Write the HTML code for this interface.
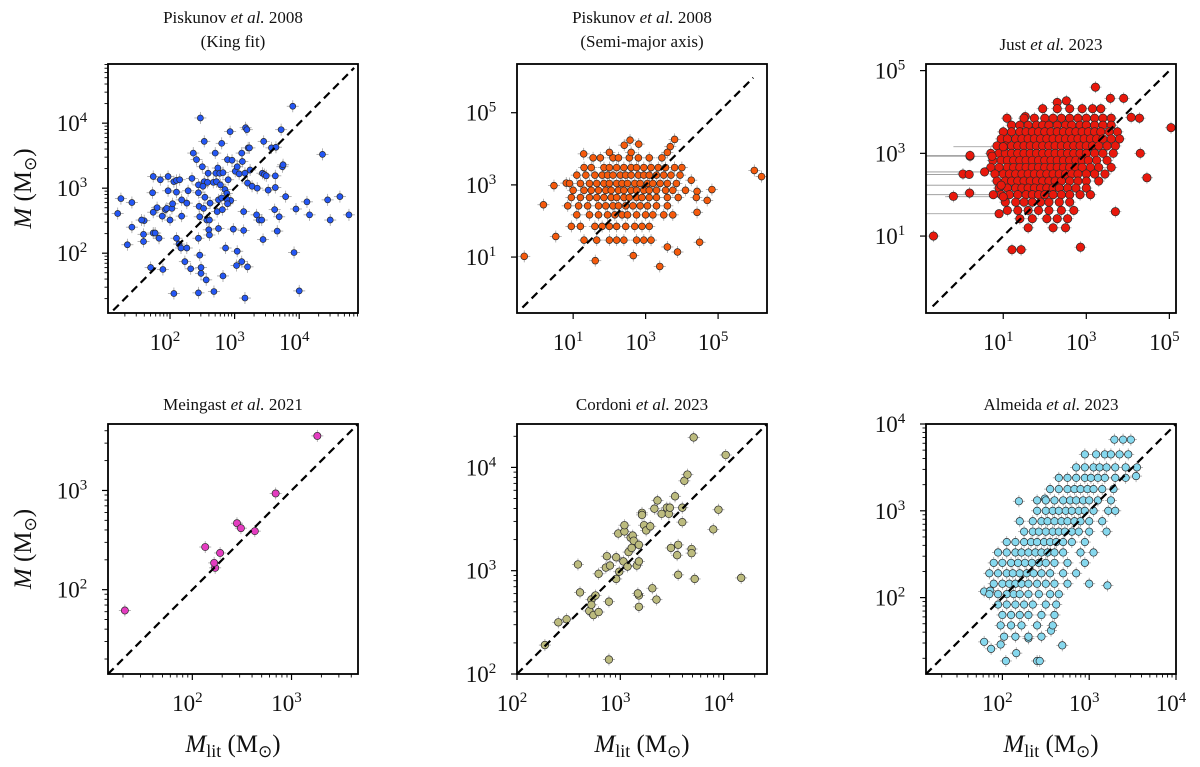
<!DOCTYPE html>
<html><head><meta charset="utf-8"><style>
html,body{margin:0;padding:0;background:#fff;}
svg{display:block;font-family:"Liberation Serif","DejaVu Serif",serif;}
</style></head><body>
<svg id="fig" width="1200" height="767" viewBox="0 0 1200 767" xmlns="http://www.w3.org/2000/svg"></svg>
<script>
// ---- data (log10 masses) ----
const p1Data=[[1.19,2.61],[1.24,2.84],[1.41,2.78],[1.41,2.40],[1.34,2.13],[1.6,2.5],[1.56,2.51],[1.59,2.29],[1.59,2.18],[1.74,3.18],[1.73,2.93],[1.74,2.63],[1.74,2.31],[1.77,2.31],[1.70,1.78],[1.80,2.70],[1.83,2.23],[1.88,2.57],[1.89,1.75],[1.85,3.13],[1.93,2.67],[1.95,2.69],[1.97,2.96],[1.97,3.18],[2.0,2.51],[2.03,2.69],[2.04,2.76],[2.06,3.10],[2.10,3.12],[2.10,2.94],[2.15,3.13],[2.18,2.82],[2.18,2.57],[2.10,2.23],[2.14,2.14],[2.06,1.38],[2.17,2.08],[2.23,1.87],[2.26,2.08],[2.26,2.77],[2.28,2.96],[2.32,1.76],[2.34,3.15],[2.36,3.54],[2.41,3.44],[2.44,3.05],[2.44,2.93],[2.45,2.72],[2.46,2.56],[2.44,2.23],[2.46,1.97],[2.44,1.39],[2.47,4.08],[2.50,3.33],[2.53,3.72],[2.53,3.10],[2.51,3.03],[2.52,2.69],[2.48,1.78],[2.48,1.69],[2.54,2.86],[2.59,3.23],[2.58,3.09],[2.57,2.51],[2.60,2.36],[2.61,2.28],[2.56,1.59],[2.62,2.77],[2.61,2.51],[2.67,3.09],[2.68,1.41],[2.70,3.54],[2.71,3.23],[2.72,3.10],[2.73,2.64],[2.74,3.31],[2.75,2.82],[2.75,2.38],[2.77,3.23],[2.80,3.69],[2.78,3.05],[2.80,2.85],[2.81,2.67],[2.82,1.65],[2.82,3.24],[2.85,2.98],[2.86,2.08],[2.88,2.92],[2.89,3.44],[2.90,3.13],[2.93,3.87],[2.94,2.81],[2.96,3.43],[2.88,2.83],[2.89,2.76],[2.98,2.37],[3.01,3.26],[3.04,3.33],[3.04,2.03],[3.03,1.81],[3.07,3.22],[3.11,3.54],[3.11,1.87],[3.12,3.41],[3.14,2.64],[3.14,2.35],[3.16,3.23],[3.17,3.93],[3.19,3.90],[3.16,1.31],[3.20,1.79],[3.20,3.08],[3.21,3.62],[3.23,3.62],[3.24,3.28],[3.27,3.03],[3.34,2.59],[3.35,3.0],[3.38,2.51],[3.42,2.51],[3.44,2.21],[3.45,3.72],[3.43,3.23],[3.46,3.21],[3.49,3.19],[3.52,2.97],[3.57,3.62],[3.64,3.63],[3.63,3.19],[3.63,3.01],[3.62,2.67],[3.66,2.34],[3.69,2.56],[3.72,3.90],[3.74,3.33],[3.75,3.36],[3.79,2.87],[3.90,4.26],[3.92,2.01],[3.95,2.68],[4.00,1.42],[4.12,2.79],[4.16,2.59],[4.36,3.52],[4.44,2.82],[4.48,2.51],[4.63,2.87],[4.77,2.59]];

const p2Data=[[-0.35,1.02],[0.18,2.45],[0.52,1.57],[0.47,2.98],[0.81,3.05],[1.29,3.86],[6.0,3.40],[6.2,3.23],[4.49,1.41],[3.39,0.74],[1.61,0.9],[2.66,1.04],[3.88,1.14],[3.6,1.28],[4.83,2.87],[4.42,2.82],[4.7,2.57],[4.42,2.24],[4.26,3.13],[2.57,4.24],[2.41,4.10],[2.81,4.13],[3.80,4.26],[3.68,4.06]];
const p2Rows=[[3.75,[1.55,1.75,2.1,2.25,2.55,2.8,3.1,3.45]],[3.9,[2.0,2.6,3.6]],[3.48,[1.3,1.5,1.85,2.0,2.2,2.4,2.6,2.75,2.95,3.15,3.35,3.55,3.8,4.0]],[3.27,[1.1,1.35,1.6,1.8,1.95,2.1,2.3,2.45,2.6,2.8,2.95,3.1,3.3,3.5,3.7,3.95]],[3.04,[0.9,1.2,1.45,1.65,1.85,2.0,2.2,2.35,2.5,2.7,2.85,3.05,3.2,3.4,3.6,3.85]],[2.85,[1.0,1.3,1.5,1.7,1.9,2.05,2.25,2.4,2.6,2.75,2.95,3.1,3.3,3.55,3.75,4.1]],[2.65,[0.95,1.2,1.45,1.65,1.85,2.05,2.2,2.4,2.55,2.75,2.9,3.1,3.3,3.6,3.9,4.4]],[2.42,[0.85,1.15,1.4,1.7,1.9,2.1,2.25,2.45,2.65,2.85,3.05,3.3,3.6]],[2.17,[1.1,1.45,1.7,1.95,2.15,2.35,2.5,2.75,3.0,3.2,3.5,3.75]],[1.85,[0.95,1.2,1.6,1.8,2.0,2.2,2.45,2.7,2.9,3.1]],[1.47,[1.3,1.65,2.0,2.2,2.4,2.75,2.95,3.15]]];

const p3Data=[[-0.68,1.0],[5.04,3.62],[3.7,1.59],[2.86,0.73],[1.21,0.67],[1.43,0.67],[4.46,2.41],[4.3,3.0],[-0.2,1.96],[0.19,2.04],[0.2,2.93],[0.03,2.5],[3.22,4.6],[2.52,4.27],[2.3,4.23],[1.09,3.85],[1.53,3.89],[3.58,4.33],[3.9,4.33],[4.08,3.87],[4.28,3.85]];
const p3LongErr=[[0.73,2.93,-0.86],[0.2,2.95,-0.86],[0.55,2.55,-0.86],[0.76,2.0,-0.86],[0.9,1.54,-0.86],[0.18,2.49,-0.86],[1.0,3.16,-0.2],[0.95,2.23,-0.86],[1.0,1.95,-0.4]];
const p3Rows=[[4.08,[1.95,2.3,2.6,2.9,3.15,3.35]],[3.85,[1.5,1.75,2.0,2.2,2.4,2.6,2.8,3.0,3.2,3.4,3.6]],[3.68,[1.2,1.4,1.6,1.8,1.95,2.1,2.3,2.5,2.65,2.85,3.0,3.2,3.4,3.6]],[3.52,[1.0,1.2,1.4,1.55,1.7,1.85,2.0,2.15,2.3,2.45,2.6,2.75,2.9,3.05,3.2,3.35,3.55,3.75]],[3.35,[0.95,1.1,1.3,1.45,1.6,1.75,1.9,2.05,2.2,2.35,2.5,2.65,2.8,2.95,3.1,3.25,3.4,3.6,3.8]],[3.18,[0.85,1.05,1.2,1.35,1.5,1.65,1.8,1.95,2.1,2.25,2.4,2.55,2.7,2.85,3.0,3.15,3.3,3.5,3.7]],[3.0,[0.7,0.9,1.05,1.2,1.35,1.5,1.65,1.8,1.95,2.1,2.25,2.4,2.55,2.7,2.85,3.0,3.2,3.4,3.65]],[2.83,[0.75,0.95,1.1,1.25,1.4,1.55,1.7,1.85,2.0,2.15,2.3,2.45,2.6,2.75,2.9,3.05,3.25,3.5]],[2.66,[0.7,0.9,1.1,1.25,1.4,1.55,1.7,1.85,2.0,2.15,2.3,2.45,2.6,2.75,2.9,3.1,3.3,3.6]],[2.5,[0.8,1.0,1.15,1.3,1.45,1.6,1.75,1.9,2.05,2.2,2.35,2.5,2.65,2.8,3.0,3.2,3.45]],[2.33,[0.85,1.05,1.2,1.35,1.5,1.65,1.8,1.95,2.1,2.25,2.4,2.6,2.8,3.0,3.3]],[2.16,[0.9,1.1,1.3,1.45,1.6,1.75,1.9,2.05,2.2,2.35,2.55,2.75,3.0]],[2.0,[0.95,1.15,1.35,1.55,1.7,1.85,2.0,2.2,2.4,2.6,2.85,3.1]],[1.82,[1.05,1.3,1.5,1.7,1.9,2.1,2.35,2.6]],[1.62,[1.1,1.35,1.6,1.85,2.1,2.4,2.7]],[1.42,[1.4,1.7,2.05,2.3,2.55]],[1.2,[1.6,2.2,2.5]]];

const p4Data=[[1.32,1.79],[2.13,2.43],[2.23,2.22],[2.22,2.27],[2.28,2.37],[2.45,2.67],[2.49,2.62],[2.63,2.59],[2.84,2.97],[3.26,3.55]];

const p5Data=[[2.27,2.28],[2.40,2.50],[2.48,2.53],[2.59,3.06],[2.61,2.79],[2.70,2.61],[2.72,2.72],[2.72,2.67],[2.74,2.57],[2.76,2.76],[2.79,2.60],[2.79,2.97],[2.86,3.03],[2.87,3.14],[2.89,2.70],[2.89,2.14],[2.90,3.05],[2.96,3.13],[2.96,2.92],[2.98,3.36],[2.99,2.99],[3.03,3.09],[3.04,3.38],[3.04,3.44],[3.07,3.04],[3.08,3.18],[3.10,3.32],[3.11,3.22],[3.12,3.34],[3.13,3.29],[3.16,3.05],[3.18,3.25],[3.18,3.09],[3.18,2.76],[3.17,2.78],[3.18,2.65],[3.21,3.56],[3.21,3.54],[3.23,3.44],[3.25,3.39],[3.29,3.43],[3.31,2.83],[3.33,3.60],[3.35,2.72],[3.36,3.68],[3.40,3.55],[3.45,3.61],[3.47,3.55],[3.48,3.61],[3.49,3.22],[3.53,3.72],[3.55,3.15],[3.56,3.25],[3.56,2.96],[3.60,3.47],[3.60,3.61],[3.62,3.87],[3.65,3.93],[3.69,3.21],[3.69,3.17],[3.72,2.92],[3.71,4.29],[3.90,3.40],[3.95,3.59],[4.02,4.12],[4.17,2.93]];

const p6Data=[[2.19,3.11],[2.49,3.14],[1.79,2.07],[1.86,2.08],[3.21,2.14],[1.79,1.49],[1.87,1.41],[2.04,1.27],[2.69,1.45],[2.16,1.36],[2.40,1.27],[2.43,1.27],[2.30,1.53],[1.98,1.46],[2.56,1.62],[3.54,3.40]];
const p6Rows=[[3.82,[3.29,3.39,3.48]],[3.65,[2.95,3.08,3.18,3.25,3.35,3.45]],[3.5,[2.85,2.95,3.05,3.12,3.2,3.3,3.42,3.55]],[3.38,[2.65,2.75,2.85,2.95,3.02,3.1,3.18,3.3,3.42]],[3.25,[2.55,2.65,2.75,2.83,2.9,2.98,3.05,3.15,3.28]],[3.12,[2.4,2.5,2.6,2.7,2.78,2.85,2.93,3.0,3.1,3.25]],[3.0,[2.4,2.5,2.58,2.65,2.73,2.8,2.88,2.95,3.05,3.22,3.3]],[2.88,[2.2,2.35,2.45,2.52,2.6,2.68,2.75,2.83,2.9,3.0,3.15]],[2.76,[2.25,2.35,2.42,2.5,2.58,2.65,2.72,2.8,2.88,3.0,3.2]],[2.64,[2.05,2.15,2.25,2.33,2.4,2.48,2.55,2.62,2.7,2.8,2.95]],[2.52,[1.95,2.05,2.15,2.22,2.3,2.38,2.45,2.52,2.6,2.7,2.9,3.05]],[2.4,[1.9,2.0,2.1,2.18,2.26,2.34,2.42,2.5,2.6,2.75,2.95]],[2.28,[1.85,1.95,2.05,2.12,2.2,2.28,2.36,2.45,2.55,2.7,2.85]],[2.16,[1.9,2.0,2.08,2.15,2.22,2.3,2.4,2.5,2.6,2.75,3.0]],[2.04,[1.85,1.95,2.05,2.13,2.2,2.3,2.42,2.55,2.65]],[1.92,[1.95,2.05,2.15,2.25,2.35,2.5,2.62]],[1.8,[2.0,2.1,2.2,2.3,2.45,2.6]],[1.68,[1.98,2.1,2.22,2.4,2.58]],[1.55,[2.02,2.15,2.3,2.45]]];

const p1Ticks=[2,3,4], p2Ticks=[1,3,5], p3Ticks=[1,3,5], p4Ticks=[2,3], p5Ticks=[2,3,4], p6Ticks=[2,3,4];

// ---- rendering ----
const NS="http://www.w3.org/2000/svg";
const svg=document.getElementById('fig');
function mk(tag,attrs,parent){const e=document.createElementNS(NS,tag);for(const k in attrs)e.setAttribute(k,attrs[k]);(parent||svg).appendChild(e);return e;}
function rowsToPts(rows){const o=[];rows.forEach(r=>r[1].forEach(x=>o.push([x,r[0]])));return o;}

const panels=[
 {id:'piskunov-king',L:108,T:64,W:250,H:249,xr:[1.04,4.91],yr:[1.08,4.91],d:[1.12,4.85],ticks:p1Ticks,minor:true,pts:p1Data,col:'#2457f5',r:3,t1:['Piskunov ','et al.',' 2008'],t2:'(King fit)',ylab:true,xlab:false},
 {id:'piskunov-sma',L:517,T:64,W:250,H:249,xr:[-0.55,6.35],yr:[-0.55,6.35],d:[-0.4,5.97],ticks:p2Ticks,minor:false,pts:p2Data.concat(rowsToPts(p2Rows)),col:'#f55a0c',r:3.4,t1:['Piskunov ','et al.',' 2008'],t2:'(Semi-major axis)',ylab:false,xlab:false},
 {id:'just',L:926,T:64,W:250,H:249,xr:[-0.86,5.16],yr:[-0.86,5.16],d:[-0.7,5.0],ticks:p3Ticks,minor:false,pts:p3Data.concat(rowsToPts(p3Rows)),long:p3LongErr,col:'#e8180c',r:4.2,t1:['Just ','et al.',' 2023'],t2:null,ylab:false,xlab:false},
 {id:'meingast',L:108,T:424,W:250,H:250,xr:[1.15,3.67],yr:[1.15,3.67],d:[1.15,3.67],ticks:p4Ticks,minor:true,pts:p4Data,col:'#e43cc0',r:3.6,t1:['Meingast ','et al.',' 2021'],t2:null,ylab:true,xlab:true},
 {id:'cordoni',L:517,T:424,W:250,H:250,xr:[2,4.42],yr:[2,4.42],d:[2,4.42],ticks:p5Ticks,minor:true,pts:p5Data,col:'#bcbb7e',r:3.8,t1:['Cordoni ','et al.',' 2023'],t2:null,ylab:false,xlab:true},
 {id:'almeida',L:926,T:424,W:250,H:250,xr:[1.12,4.0],yr:[1.12,4.0],d:[1.12,4.0],ticks:p6Ticks,minor:true,pts:p6Data.concat(rowsToPts(p6Rows)),col:'#86d8ee',r:3.7,t1:['Almeida ','et al.',' 2023'],t2:null,ylab:false,xlab:true}
];

panels.forEach(p=>{
 const g=mk('g',{});
 
 
 const sx=v=>p.L+(v-p.xr[0])/(p.xr[1]-p.xr[0])*p.W;
 const sy=v=>p.T+p.H-(v-p.yr[0])/(p.yr[1]-p.yr[0])*p.H;
 const cx=p.L+p.W/2;
 const ty=p.t2?(p.T-41):(p.T-14);
 const t=mk('text',{x:cx,y:ty,'text-anchor':'middle','font-size':17,fill:'#111'},g);
 
 
 mk('tspan',{},t).textContent=p.t1[0];
 mk('tspan',{'font-style':'italic'},t).textContent=p.t1[1];
 mk('tspan',{},t).textContent=p.t1[2];
 if(p.t2){const t2=mk('text',{x:cx,y:p.T-17,'text-anchor':'middle','font-size':17,fill:'#111'},g);
  
  
  t2.textContent=p.t2;}
 const cp=mk('clipPath',{id:'clip-'+p.id},g);mk('rect',{x:p.L,y:p.T,width:p.W,height:p.H},cp);
 const pg=mk('g',{'clip-path':'url(#clip-'+p.id+')'},g);
 
 
 const eg=mk('g',{stroke:'#8a8a8a','stroke-width':0.8,opacity:0.8},pg);
 
 
 p.pts.forEach(d=>{const x=sx(d[0]),y=sy(d[1]);
  mk('line',{x1:x-6,x2:x+6,y1:y,y2:y},eg);mk('line',{x1:x,x2:x,y1:y-6,y2:y+6},eg);});
 if(p.long)p.long.forEach(d=>{mk('line',{x1:sx(d[2]),x2:sx(d[0]),y1:sy(d[1]),y2:sy(d[1]),stroke:'#777'},eg);});
 const mg=mk('g',{fill:p.col,stroke:'#2a2a2a','stroke-width':0.7},pg);
 
 
 p.pts.forEach(d=>{const c=mk('circle',{cx:sx(d[0]),cy:sy(d[1]),r:p.r},mg);
  
  });
 if(p.long)p.long.forEach(d=>{const c=mk('circle',{cx:sx(d[0]),cy:sy(d[1]),r:p.r},mg);
  
  });
 const dl=mk('line',{x1:sx(p.d[0]),y1:sy(p.d[0]),x2:sx(p.d[1]),y2:sy(p.d[1]),stroke:'#000','stroke-width':2.2,'stroke-dasharray':'8,5'},g);
 
 
 const fr=mk('rect',{x:p.L,y:p.T,width:p.W,height:p.H,fill:'none',stroke:'#000','stroke-width':1.8},g);
 
 
 const tg=mk('g',{stroke:'#000','stroke-width':1.2},g);
 
 
 const B=p.T+p.H;
 if(p.minor){
  for(let dec=Math.floor(p.xr[0]);dec<=Math.ceil(p.xr[1]);dec++)for(let m=2;m<=9;m++){const v=dec+Math.log10(m);
   if(v>p.xr[0]&&v<p.xr[1])mk('line',{x1:sx(v),x2:sx(v),y1:B,y2:B+3.5,'stroke-width':0.9},tg);
   if(v>p.yr[0]&&v<p.yr[1])mk('line',{x1:p.L,x2:p.L-3.5,y1:sy(v),y2:sy(v),'stroke-width':0.9},tg);}
 }
 p.ticks.forEach(v=>{
  if(v>=p.xr[0]-0.01&&v<=p.xr[1]+0.01){const x=sx(v);mk('line',{x1:x,x2:x,y1:B,y2:B+6},tg);
   const lt=mk('text',{x:x-5,y:B+37,'text-anchor':'middle','font-size':23,fill:'#111'},g);
   
   
   lt.textContent='10';const s=mk('tspan',{'font-size':15,dy:-9},lt);s.textContent=String(v);}
  if(v>=p.yr[0]-0.01&&v<=p.yr[1]+0.01){const y=sy(v);mk('line',{x1:p.L,x2:p.L-6,y1:y,y2:y},tg);
   const lt=mk('text',{x:p.L-36,y:y+8,'text-anchor':'middle','font-size':23,fill:'#111'},g);
   
   
   lt.textContent='10';const s=mk('tspan',{'font-size':15,dy:-9},lt);s.textContent=String(v);}
 });
 if(p.ylab){const yc=p.T+p.H/2;
  const yl=mk('text',{x:0,y:0,transform:'translate(31,'+yc+') rotate(-90)','text-anchor':'middle','font-size':25,fill:'#111'},g);
  
  
  mk('tspan',{'font-style':'italic'},yl).textContent='M';
  mk('tspan',{},yl).textContent=' (M';
  mk('tspan',{'font-size':17,dy:5,'font-family':'DejaVu Sans'},yl).textContent='\u2299';
  mk('tspan',{dy:-5},yl).textContent=')';}
 if(p.xlab){
  const xl=mk('text',{x:cx,y:752,'text-anchor':'middle','font-size':25,fill:'#111'},g);
  
  
  mk('tspan',{'font-style':'italic'},xl).textContent='M';
  mk('tspan',{'font-size':18,dy:5},xl).textContent='lit';
  mk('tspan',{dy:-5},xl).textContent=' (M';
  mk('tspan',{'font-size':17,dy:5,'font-family':'DejaVu Sans'},xl).textContent='\u2299';
  mk('tspan',{dy:-5},xl).textContent=')';}
});
</script>
</body></html>
